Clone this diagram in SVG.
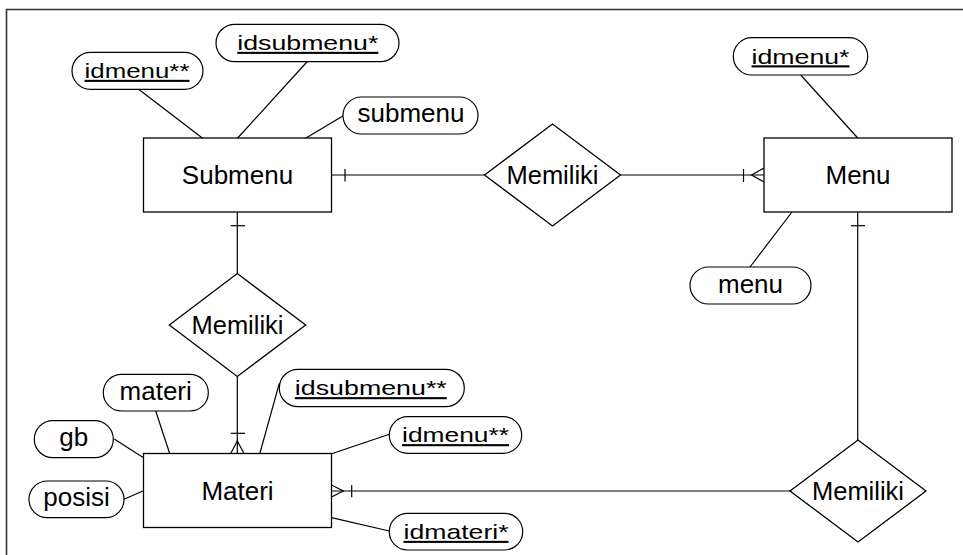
<svg xmlns="http://www.w3.org/2000/svg" width="963" height="555" viewBox="0 0 963 555">
  <style>
    text { font-family: "Liberation Sans", Arial, sans-serif; fill: #000; text-anchor: middle; }
    .ent { font-size: 26px; }
    .rel { font-size: 25.5px; }
    .att { font-size: 26px; }
    .key { font-size: 25px; text-decoration: underline; }
    .box { fill: #fff; stroke: #000; stroke-width: 1.3; }
    .pill { fill: #fff; stroke: #000; stroke-width: 1.2; }
    .ln { fill: none; stroke: #000; stroke-width: 1.2; }
    .frame { fill: none; stroke: #333; stroke-width: 1.6; }
  </style>

  <rect width="963" height="555" fill="#fff"/>
  <!-- outer frame -->
  <path class="frame" d="M6.5,555 V9.5 H963"/>

  <!-- connectors -->
  <g id="connectors">
    <!-- attribute links -->
    <line class="ln" x1="138.3" y1="89" x2="202.3" y2="138"/>
    <line class="ln" x1="307.3" y1="61.5" x2="237.7" y2="138"/>
    <line class="ln" x1="343.3" y1="115.7" x2="306" y2="138"/>
    <line class="ln" x1="800.7" y1="75" x2="857.7" y2="138"/>
    <line class="ln" x1="792" y1="212" x2="750" y2="267"/>
    <line class="ln" x1="155.7" y1="411" x2="170.5" y2="456"/>
    <line class="ln" x1="114.3" y1="439" x2="143.5" y2="457.7"/>
    <line class="ln" x1="124" y1="499.3" x2="143.5" y2="490.7"/>
    <line class="ln" x1="279.3" y1="383.3" x2="259" y2="456.5"/>
    <line class="ln" x1="389.3" y1="434.3" x2="325" y2="456"/>
    <line class="ln" x1="331.5" y1="517.7" x2="389.3" y2="531"/>

    <!-- Submenu - Memiliki - Menu -->
    <line class="ln" x1="331.5" y1="175" x2="484.5" y2="175"/>
    <line class="ln" x1="345" y1="169" x2="345" y2="181.5"/>
    <line class="ln" x1="620.5" y1="175" x2="764" y2="175"/>
    <line class="ln" x1="743.5" y1="169" x2="743.5" y2="182"/>
    <path class="ln" d="M764,168 L751.5,175 L764,182"/>

    <!-- Submenu - Memiliki - Materi -->
    <line class="ln" x1="237.3" y1="212" x2="237.3" y2="274"/>
    <line class="ln" x1="230.7" y1="225.7" x2="245" y2="225.7"/>
    <line class="ln" x1="237.3" y1="376.5" x2="237.3" y2="453.5"/>
    <line class="ln" x1="230.7" y1="433.3" x2="245" y2="433.3"/>
    <path class="ln" d="M230.7,453.5 L237.3,441 L244,453.5"/>

    <!-- Menu - Memiliki - Materi -->
    <line class="ln" x1="857.7" y1="212" x2="857.7" y2="440"/>
    <line class="ln" x1="851" y1="225.7" x2="865" y2="225.7"/>
    <line class="ln" x1="790" y1="491" x2="331.5" y2="491"/>
    <line class="ln" x1="351.7" y1="485" x2="351.7" y2="497.3"/>
    <path class="ln" d="M331.5,485 L343.3,491 L331.5,497"/>
  </g>

  <!-- entities -->
  <g id="submenu">
    <rect class="box" x="143.5" y="138" width="188" height="74"/>
    <text class="ent" x="237.5" y="184">Submenu</text>
  </g>
  <g id="menu">
    <rect class="box" x="764" y="138" width="188" height="74"/>
    <text class="ent" x="858" y="184">Menu</text>
  </g>
  <g id="materi">
    <rect class="box" x="143.5" y="453.5" width="188" height="74"/>
    <text class="ent" x="237.5" y="499.5">Materi</text>
  </g>

  <!-- relationships -->
  <g id="rel-submenu-menu">
    <polygon class="box" points="484.5,175 552.5,124 620.5,175 552.5,226"/>
    <text class="rel" x="552.5" y="183.5">Memiliki</text>
  </g>
  <g id="rel-submenu-materi">
    <polygon class="box" points="169.3,325 237.3,273.5 305.7,325 237.3,376.5"/>
    <text class="rel" x="237.5" y="333.5">Memiliki</text>
  </g>
  <g id="rel-menu-materi">
    <polygon class="box" points="790,491 858,440 926,491 858,542"/>
    <text class="rel" x="858" y="499.5">Memiliki</text>
  </g>

  <!-- Submenu attributes (key texts are drawn slightly flattened) -->
  <g id="attr-submenu-idmenu">
    <rect class="pill" x="72" y="52.3" width="131" height="37" rx="18.5"/>
    <text class="key" transform="translate(137 78) scale(1 0.84)" textLength="105" lengthAdjust="spacingAndGlyphs">idmenu**</text>
  </g>
  <g id="attr-submenu-idsubmenu">
    <rect class="pill" x="216" y="24.3" width="183" height="37.4" rx="18.7"/>
    <text class="key" transform="translate(307.8 50) scale(1 0.84)" textLength="141" lengthAdjust="spacingAndGlyphs">idsubmenu*</text>
  </g>
  <g id="attr-submenu-submenu">
    <rect class="pill" x="343" y="97" width="135" height="37" rx="18.5"/>
    <text class="att" x="411" y="122.3">submenu</text>
  </g>

  <!-- Menu attributes -->
  <g id="attr-menu-idmenu">
    <rect class="pill" x="733.3" y="37.7" width="134.4" height="37.3" rx="18.6"/>
    <text class="key" transform="translate(800.5 63.5) scale(1 0.84)" textLength="98" lengthAdjust="spacingAndGlyphs">idmenu*</text>
  </g>
  <g id="attr-menu-menu">
    <rect class="pill" x="690" y="267" width="121" height="37" rx="18.5"/>
    <text class="att" x="750.5" y="292.5">menu</text>
  </g>

  <!-- Materi attributes -->
  <g id="attr-materi-materi">
    <rect class="pill" x="103.3" y="374.3" width="105" height="36.7" rx="18.3"/>
    <text class="att" x="155.7" y="399.7">materi</text>
  </g>
  <g id="attr-materi-gb">
    <rect class="pill" x="34.3" y="420.7" width="79" height="37" rx="18.5"/>
    <text class="att" x="73.8" y="446.2">gb</text>
  </g>
  <g id="attr-materi-posisi">
    <rect class="pill" x="29" y="481" width="95" height="36.7" rx="18.3"/>
    <text class="att" x="76.5" y="506.3">posisi</text>
  </g>
  <g id="attr-materi-idsubmenu">
    <rect class="pill" x="279.3" y="369.3" width="185" height="37.4" rx="18.7"/>
    <text class="key" transform="translate(370.8 395.3) scale(1 0.84)" textLength="152" lengthAdjust="spacingAndGlyphs">idsubmenu**</text>
  </g>
  <g id="attr-materi-idmenu">
    <rect class="pill" x="389.3" y="416.7" width="132.4" height="36.6" rx="18.3"/>
    <text class="key" transform="translate(455.5 442.3) scale(1 0.84)" textLength="107" lengthAdjust="spacingAndGlyphs">idmenu**</text>
  </g>
  <g id="attr-materi-idmateri">
    <rect class="pill" x="389.3" y="513.3" width="133.4" height="36.7" rx="18.3"/>
    <text class="key" transform="translate(456 539) scale(1 0.84)" textLength="105" lengthAdjust="spacingAndGlyphs">idmateri*</text>
  </g>
</svg>
